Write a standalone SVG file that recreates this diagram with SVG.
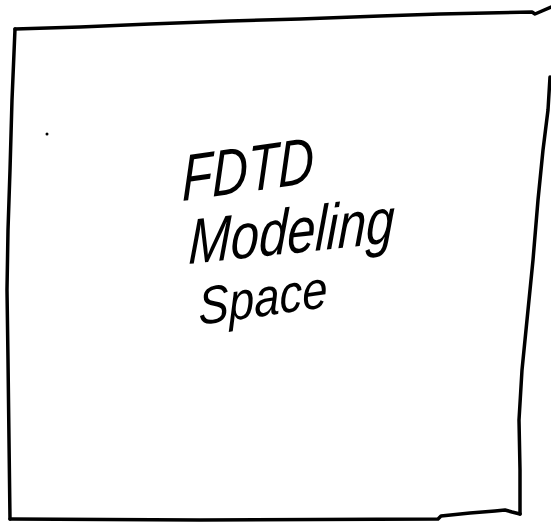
<svg xmlns="http://www.w3.org/2000/svg" width="551" height="523" viewBox="0 0 551 523">
<style>
.edge{fill:none;stroke:#000;stroke-width:3.5;stroke-linejoin:round;stroke-linecap:round}
.hand{font-family:"Liberation Sans","DejaVu Sans",sans-serif;font-style:italic;fill:#000}
</style>
<rect width="551" height="523" fill="#fff"/>
<g id="modeling-space">
<path class="edge" d="M15,29 L80,27 L150,24 L230,21 L300,19 L380,16 L440,14 L532,12 L535,14 L551,7"/>
<path class="edge" d="M15,29 L12,100 L10,170 L8,230 L7,290 L8,360 L9,440 L10,519"/>
<path class="edge" d="M10,519 L200,520 L438,519 L441,516 L470,513 L495,511 L505,510 L512,512 L520,514"/>
<path class="edge" d="M520,514 L520,470 L519,420 L522,370 L525,340 L529,300 L533,260 L538,200 L543,150 L548,110 L550,77"/>
<circle cx="47" cy="134" r="1.5" fill="#000"/>
<text class="hand" font-size="50" transform="translate(182,201) rotate(-8) skewX(-8) scale(1,1.3)">FDTD</text>
<text class="hand" font-size="51" transform="translate(188,264) rotate(-6) skewX(-8) scale(1,1.25)">Modeling</text>
<text class="hand" font-size="46" transform="translate(199,325) rotate(-8) skewX(-6) scale(1,1.15)">Space</text>
</g>
</svg>
